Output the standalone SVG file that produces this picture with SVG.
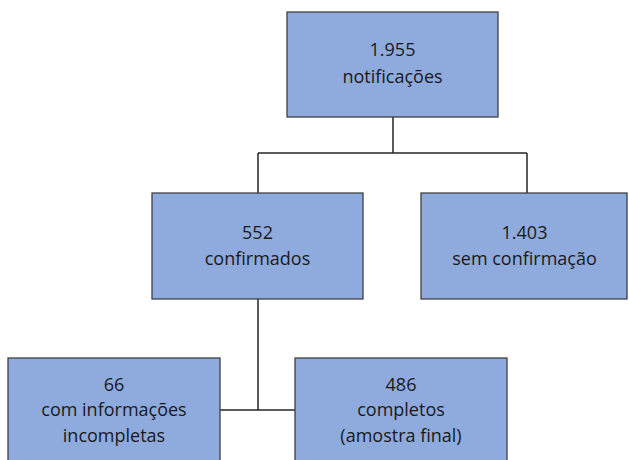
<svg xmlns="http://www.w3.org/2000/svg" width="629" height="460" viewBox="0 0 629 460">
<style>
.box{fill:#8faadc;stroke:#404040;stroke-width:1.3}
.t{font-family:"Open Sans","Liberation Sans",Arial,sans-serif;font-size:18px;fill:#1a1a1a;text-anchor:middle}
.c{fill:none;stroke:#262626;stroke-width:1.5}
</style>
<rect width="629" height="460" fill="#ffffff"/>
<g id="connectors">
<path class="c" d="M393 117V153M258 153H527M258 153V193M527 153V193"/>
<path class="c" d="M258 299V410M220 410H295"/>
</g>
<g id="n1"><rect class="box" x="287" y="12" width="211" height="105"/>
<text class="t" x="392.5" y="56">1.955</text><text class="t" x="392.5" y="83">notificações</text></g>
<g id="n2"><rect class="box" x="152" y="193" width="211" height="106"/>
<text class="t" x="257.5" y="239">552</text><text class="t" x="257.5" y="265">confirmados</text></g>
<g id="n3"><rect class="box" x="421" y="193" width="206" height="106"/>
<text class="t" x="524.5" y="239">1.403</text><text class="t" x="524.5" y="265">sem confirmação</text></g>
<g id="n4"><rect class="box" x="8" y="358" width="212" height="110"/>
<text class="t" x="114" y="391">66</text><text class="t" x="114" y="416">com informações</text><text class="t" x="114" y="442">incompletas</text></g>
<g id="n5"><rect class="box" x="295" y="358" width="212" height="110"/>
<text class="t" x="401" y="391">486</text><text class="t" x="401" y="416">completos</text><text class="t" x="401" y="442">(amostra final)</text></g>
</svg>
